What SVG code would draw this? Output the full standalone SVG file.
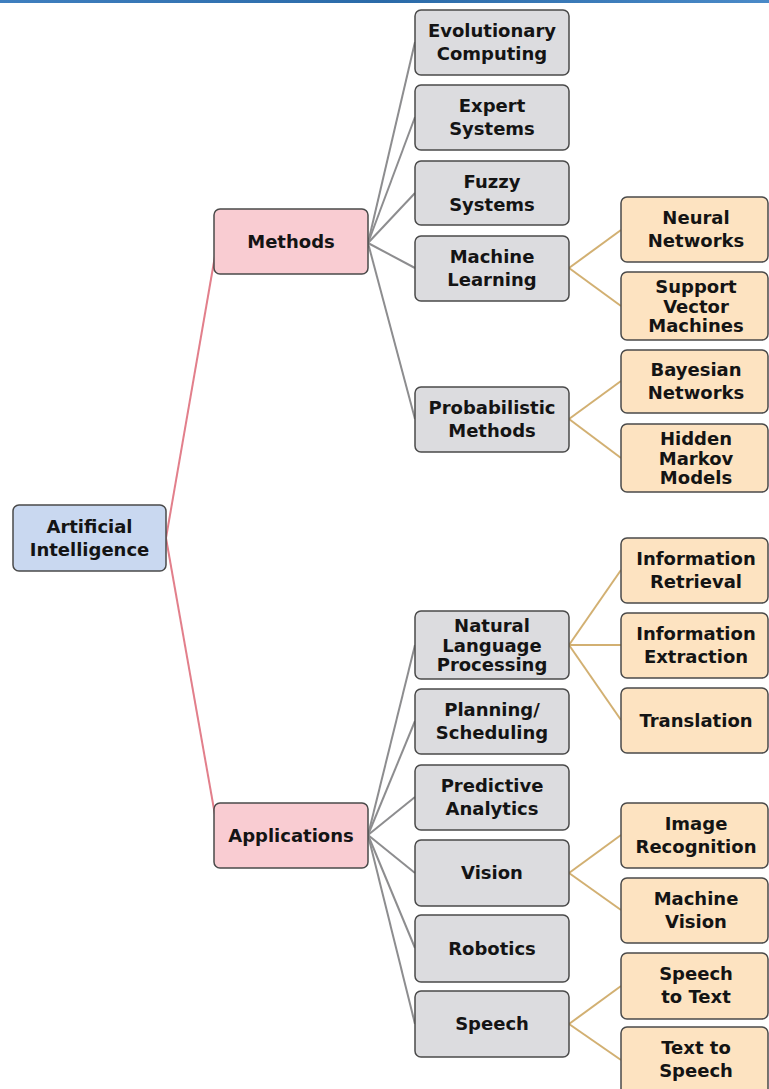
<svg xmlns="http://www.w3.org/2000/svg" width="769" height="1089" viewBox="0 0 769 1089">
<defs>
<linearGradient id="bar" x1="0" x2="1" y1="0" y2="0">
<stop offset="0" stop-color="#3f7fbf"/><stop offset="0.5" stop-color="#2a6aa8"/><stop offset="1" stop-color="#4a8ac8"/>
</linearGradient>
</defs>
<style>
.n rect{stroke:#4a4a4a;stroke-width:1.5}
.root rect{fill:#c9d8f0}
.cat rect{fill:#f9ccd2}
.g rect{fill:#dcdcdf}
.o rect{fill:#fde3c1}
text{font-family:"DejaVu Sans","Liberation Sans",sans-serif;font-weight:bold;font-size:18px;fill:#141414;text-anchor:middle}
.pk{stroke:#e27f8b;stroke-width:2;fill:none}
.gr{stroke:#8d8d8f;stroke-width:2;fill:none}
.tn{stroke:#d2b072;stroke-width:2;fill:none}
</style>
<rect x="0" y="0" width="769" height="3" fill="url(#bar)"/>
<g id="connectors">
<line class="pk" x1="166" y1="538" x2="215" y2="256"/>
<line class="pk" x1="166" y1="538" x2="215" y2="815"/>
<line class="gr" x1="368" y1="243" x2="415" y2="42"/>
<line class="gr" x1="368" y1="243" x2="415" y2="117"/>
<line class="gr" x1="368" y1="243" x2="415" y2="193"/>
<line class="gr" x1="368" y1="243" x2="415" y2="268"/>
<line class="gr" x1="368" y1="243" x2="415" y2="419"/>
<line class="gr" x1="368" y1="835" x2="415" y2="645"/>
<line class="gr" x1="368" y1="835" x2="415" y2="721"/>
<line class="gr" x1="368" y1="835" x2="415" y2="797"/>
<line class="gr" x1="368" y1="835" x2="415" y2="873"/>
<line class="gr" x1="368" y1="835" x2="415" y2="948"/>
<line class="gr" x1="368" y1="835" x2="415" y2="1024"/>
<line class="tn" x1="569" y1="268" x2="621" y2="230"/>
<line class="tn" x1="569" y1="268" x2="621" y2="306"/>
<line class="tn" x1="569" y1="419" x2="621" y2="381"/>
<line class="tn" x1="569" y1="419" x2="621" y2="458"/>
<line class="tn" x1="569" y1="645" x2="621" y2="570"/>
<line class="tn" x1="569" y1="645" x2="621" y2="645"/>
<line class="tn" x1="569" y1="645" x2="621" y2="720"/>
<line class="tn" x1="569" y1="873" x2="621" y2="835"/>
<line class="tn" x1="569" y1="873" x2="621" y2="910"/>
<line class="tn" x1="569" y1="1024" x2="621" y2="986"/>
<line class="tn" x1="569" y1="1024" x2="621" y2="1060"/>
</g>
<g id="ai" class="n root"><rect x="13" y="505" width="153" height="66" rx="6"/><text x="89.5" y="532.5">Artificial</text><text x="89.5" y="555.5">Intelligence</text></g>
<g id="methods" class="n cat"><rect x="214" y="209" width="154" height="65" rx="6"/><text x="291" y="248">Methods</text></g>
<g id="applications" class="n cat"><rect x="214" y="803" width="154" height="65" rx="6"/><text x="291" y="842">Applications</text></g>

<g id="evo" class="n g"><rect x="415" y="10" width="154" height="65" rx="6"/><text x="492" y="37">Evolutionary</text><text x="492" y="60">Computing</text></g>
<g id="expert" class="n g"><rect x="415" y="85" width="154" height="65" rx="6"/><text x="492" y="112">Expert</text><text x="492" y="135">Systems</text></g>
<g id="fuzzy" class="n g"><rect x="415" y="161" width="154" height="64" rx="6"/><text x="492" y="188">Fuzzy</text><text x="492" y="211">Systems</text></g>
<g id="ml" class="n g"><rect x="415" y="236" width="154" height="65" rx="6"/><text x="492" y="263">Machine</text><text x="492" y="286">Learning</text></g>
<g id="prob" class="n g"><rect x="415" y="387" width="154" height="65" rx="6"/><text x="492" y="414">Probabilistic</text><text x="492" y="437">Methods</text></g>

<g id="nlp" class="n g"><rect x="415" y="611" width="154" height="68" rx="6"/><text x="492" y="632">Natural</text><text x="492" y="652">Language</text><text x="492" y="671">Processing</text></g>
<g id="planning" class="n g"><rect x="415" y="689" width="154" height="65" rx="6"/><text x="492" y="716">Planning/</text><text x="492" y="739">Scheduling</text></g>
<g id="predictive" class="n g"><rect x="415" y="765" width="154" height="65" rx="6"/><text x="492" y="792">Predictive</text><text x="492" y="815">Analytics</text></g>
<g id="vision" class="n g"><rect x="415" y="840" width="154" height="66" rx="6"/><text x="492" y="879">Vision</text></g>
<g id="robotics" class="n g"><rect x="415" y="915" width="154" height="67" rx="6"/><text x="492" y="955">Robotics</text></g>
<g id="speech" class="n g"><rect x="415" y="991" width="154" height="66" rx="6"/><text x="492" y="1030">Speech</text></g>

<g id="nn" class="n o"><rect x="621" y="197" width="147" height="65" rx="6"/><text x="696" y="224">Neural</text><text x="696" y="247">Networks</text></g>
<g id="svm" class="n o"><rect x="621" y="272" width="147" height="68" rx="6"/><text x="696" y="293">Support</text><text x="696" y="313">Vector</text><text x="696" y="332">Machines</text></g>
<g id="bn" class="n o"><rect x="621" y="350" width="147" height="63" rx="6"/><text x="696" y="376">Bayesian</text><text x="696" y="399">Networks</text></g>
<g id="hmm" class="n o"><rect x="621" y="424" width="147" height="68" rx="6"/><text x="696" y="445">Hidden</text><text x="696" y="465">Markov</text><text x="696" y="484">Models</text></g>
<g id="ir" class="n o"><rect x="621" y="538" width="147" height="65" rx="6"/><text x="696" y="565">Information</text><text x="696" y="588">Retrieval</text></g>
<g id="ie" class="n o"><rect x="621" y="613" width="147" height="65" rx="6"/><text x="696" y="640">Information</text><text x="696" y="663">Extraction</text></g>
<g id="tr" class="n o"><rect x="621" y="688" width="147" height="65" rx="6"/><text x="696" y="727">Translation</text></g>
<g id="imgrec" class="n o"><rect x="621" y="803" width="147" height="65" rx="6"/><text x="696" y="830">Image</text><text x="696" y="853">Recognition</text></g>
<g id="mv" class="n o"><rect x="621" y="878" width="147" height="65" rx="6"/><text x="696" y="905">Machine</text><text x="696" y="928">Vision</text></g>
<g id="stt" class="n o"><rect x="621" y="953" width="147" height="66" rx="6"/><text x="696" y="980">Speech</text><text x="696" y="1003">to Text</text></g>
<g id="tts" class="n o"><rect x="621" y="1027" width="147" height="68" rx="6"/><text x="696" y="1054">Text to</text><text x="696" y="1077">Speech</text></g>
</svg>
